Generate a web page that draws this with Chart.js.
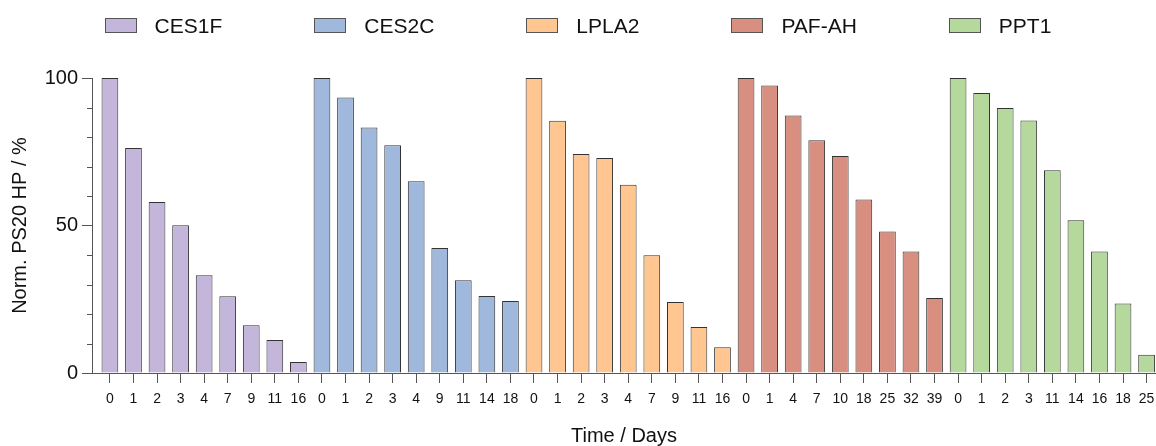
<!DOCTYPE html>
<html lang="en">
<head>
    <meta charset="UTF-8">
    <title>Norm. PS20 HP over time</title>
    <script src="https://cdn.jsdelivr.net/npm/chart.js"></script>
    <style>
        body { margin: 0; background: #fff; font-family: "Liberation Sans", Arial, sans-serif; }
        .wrap { position: relative; width: 1156px; height: 446px; }
        #legend { position: absolute; top: 18px; left: 0; width: 1156px; display: flex; justify-content: center; gap: 92px; }
        .item { display: flex; align-items: center; height: 15px; }
        .box { width: 30px; height: 13px; border: 1px solid #555; }
        .label { margin-left: 18px; font-size: 21px; color: #111; line-height: 15px; }
        canvas { position: absolute; top: 0; left: 0; }
    </style>
</head>
<body>
    <div class="wrap">
        <canvas id="chart" width="1156" height="446"></canvas>
        <div id="legend"></div>
    </div>

    <script>
        // data
        const enzymes = ['CES1F', 'CES2C', 'LPLA2', 'PAF-AH', 'PPT1'];

        const ces1fDays = ['0', '1', '2', '3', '4', '7', '9', '11', '16'];
        const ces1fValues = [100, 76.3, 58.0, 50.1, 33.1, 26.0, 16.2, 11.2, 3.7];

        const ces2cDays = ['0', '1', '2', '3', '4', '9', '11', '14', '18'];
        const ces2cValues = [100, 93.4, 83.2, 77.2, 65.0, 42.4, 31.4, 26.1, 24.4];

        const lpla2Days = ['0', '1', '2', '3', '4', '7', '9', '11', '16'];
        const lpla2Values = [100, 85.5, 74.2, 72.9, 63.8, 39.9, 24.1, 15.6, 8.7];

        const pafahDays = ['0', '1', '4', '7', '10', '18', '25', '32', '39'];
        const pafahValues = [100, 97.5, 87.3, 78.9, 73.6, 58.8, 48.0, 41.2, 25.4];

        const ppt1Days = ['0', '1', '2', '3', '11', '14', '16', '18', '25'];
        const ppt1Values = [100, 94.9, 89.8, 85.6, 68.7, 51.8, 41.2, 23.6, 6.2];

        const yMajorTicks = [0, 50, 100];
        const yMinorTicks = [10, 20, 30, 40, 60, 70, 80, 90];

        const fills = ['#c4b5da', '#a0b8dc', '#ffc691', '#d98f7f', '#b5d89d'];
        const axisColor = '#555';

        const dayGroups = [ces1fDays, ces2cDays, lpla2Days, pafahDays, ppt1Days];
        const valueGroups = [ces1fValues, ces2cValues, lpla2Values, pafahValues, ppt1Values];

        // one x slot per bar, labels run on across groups
        const xLabels = dayGroups.flat();

        let slot = 0;
        const datasets = enzymes.map((name, g) => {
            const data = valueGroups[g].map(v => ({ x: slot++, y: v }));
            return {
                label: name,
                data: data,
                backgroundColor: fills[g],
                borderColor: '#333',
                borderWidth: 1,
                grouped: false,
                categoryPercentage: 1,
                barPercentage: 0.71
            };
        });

        // html legend, spaced like the figure
        const legendEl = document.getElementById('legend');
        enzymes.forEach((name, g) => {
            const item = document.createElement('div');
            item.className = 'item';
            item.innerHTML = '<span class="box" style="background:' + fills[g] + '"></span><span class="label">' + name + '</span>';
            legendEl.appendChild(item);
        });

        const minorTicks = {
            id: 'minorTicks',
            afterDraw(chart) {
                const y = chart.scales.y;
                const ctx = chart.ctx;
                ctx.save();
                ctx.strokeStyle = axisColor;
                ctx.lineWidth = 1;
                yMinorTicks.forEach(v => {
                    const py = Math.round(y.getPixelForValue(v)) + 0.5;
                    ctx.beginPath();
                    ctx.moveTo(y.right - 5, py);
                    ctx.lineTo(y.right, py);
                    ctx.stroke();
                });
                ctx.restore();
            }
        };

        Chart.defaults.font.family = '"Liberation Sans", Arial, sans-serif';
        Chart.defaults.color = '#111';

        new Chart(document.getElementById('chart'), {
            type: 'bar',
            data: { datasets: datasets },
            plugins: [minorTicks],
            options: {
                responsive: false,
                animation: false,
                layout: { padding: { top: 78, right: 0, left: 0, bottom: 0 } },
                plugins: {
                    legend: { display: false },
                    tooltip: { enabled: false }
                },
                scales: {
                    x: {
                        type: 'linear',
                        offset: false,
                        min: -0.76,
                        max: 44.4,
                        afterBuildTicks: axis => {
                            axis.ticks = xLabels.map((_, i) => ({ value: i }));
                        },
                        afterFit: scale => {
                            scale.height = 73;
                            scale.paddingLeft = 0;
                            scale.paddingRight = 0;
                        },
                        ticks: {
                            autoSkip: false,
                            maxRotation: 0,
                            padding: 8,
                            font: { size: 14 },
                            callback: value => xLabels[value]
                        },
                        grid: { offset: false, drawOnChartArea: false, tickLength: 10, color: axisColor },
                        border: { color: axisColor },
                        title: {
                            display: true,
                            text: 'Time / Days',
                            font: { size: 20, lineHeight: 1 },
                            padding: { top: 0, bottom: 0 }
                        }
                    },
                    y: {
                        min: 0,
                        max: 100,
                        afterBuildTicks: axis => {
                            axis.ticks = yMajorTicks.map(v => ({ value: v }));
                        },
                        afterFit: scale => { scale.width = 92; },
                        ticks: { padding: 4, font: { size: 20 } },
                        grid: { drawOnChartArea: false, tickLength: 10, color: axisColor },
                        border: { color: axisColor },
                        title: {
                            display: true,
                            text: 'Norm. PS20 HP / %',
                            font: { size: 20 },
                            padding: { top: 8, bottom: 0 }
                        }
                    }
                }
            }
        });
    </script>
</body>
</html>
